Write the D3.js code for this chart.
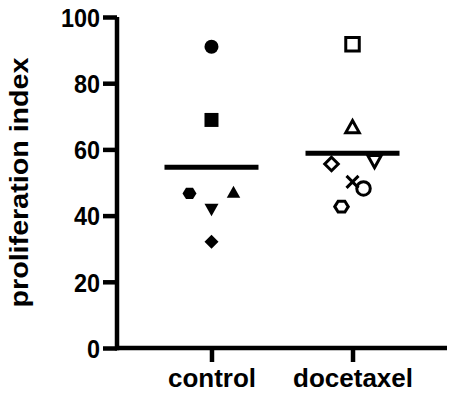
<!DOCTYPE html>
<html>
<head>
<meta charset="utf-8">
<script src="https://cdn.jsdelivr.net/npm/d3@7"></script>
<style>
  html, body { margin: 0; padding: 0; background: #fff; }
  svg { display: block; }
  text { font-family: "Liberation Sans", Arial, Helvetica, sans-serif; font-weight: bold; fill: #000; }
</style>
</head>
<body>
<svg id="chart" width="460" height="400"></svg>
<script>
// ---- data ----
const categories = ["control", "docetaxel"];
const controlValues = [91.0, 68.9, 46.7, 47.2, 41.7, 32.1];
const controlShapes = ["circle", "square", "hexagon", "triangleUp", "triangleDown", "diamond"];
const docetaxelValues = [91.8, 66.9, 55.6, 56.3, 50.2, 48.2, 42.7];
const docetaxelShapes = ["square", "triangleUp", "diamond", "triangleDown", "times", "circle", "hexagon"];
const yTicks = [0, 20, 40, 60, 80, 100];
const yLabel = "proliferation index";

// ---- layout (scatter dodge, px) ----
const controlDodge = [0, 0, -22, 22, 0, 0];
const docetaxelDodge = [0, 0, -21, 22, 0, 11, -11];

const groups = [
  { name: categories[0], values: controlValues, shapes: controlShapes, dodge: controlDodge, filled: true },
  { name: categories[1], values: docetaxelValues, shapes: docetaxelShapes, dodge: docetaxelDodge, filled: false }
];

const svg = d3.select("#chart");
const x = d3.scalePoint().domain(categories).range([117, 447]).padding(0.67);
const y = d3.scaleLinear().domain([0, 100]).range([348, 17]);

// custom symbol types
const sym = {
  circle: { draw(c, s) { const r = Math.sqrt(s) / 2; c.moveTo(r, 0); c.arc(0, 0, r, 0, 2 * Math.PI); } },
  square: { draw(c, s) { const r = Math.sqrt(s) / 2; c.rect(-r, -r, 2 * r, 2 * r); } },
  triangleUp: { draw(c, s) { const r = Math.sqrt(s) / 2, h = r * 0.9; c.moveTo(0, -h); c.lineTo(r, h); c.lineTo(-r, h); c.closePath(); } },
  triangleDown: { draw(c, s) { const r = Math.sqrt(s) / 2, h = r * 0.9; c.moveTo(0, h); c.lineTo(r, -h); c.lineTo(-r, -h); c.closePath(); } },
  diamond: { draw(c, s) { const r = Math.sqrt(s) / 2; c.moveTo(0, -r); c.lineTo(r, 0); c.lineTo(0, r); c.lineTo(-r, 0); c.closePath(); } },
  hexagon: { draw(c, s) { const r = Math.sqrt(s) / 2, h = r * 0.8; c.moveTo(-r, 0); c.lineTo(-r / 2, -h); c.lineTo(r / 2, -h); c.lineTo(r, 0); c.lineTo(r / 2, h); c.lineTo(-r / 2, h); c.closePath(); } },
  times: { draw(c, s) { const r = Math.sqrt(s) / 2; c.moveTo(-r, -r); c.lineTo(r, r); c.moveTo(r, -r); c.lineTo(-r, r); } }
};

// y axis
const yAxis = d3.axisLeft(y).tickValues(yTicks).tickSize(14).tickPadding(3);
const gy = svg.append("g").attr("transform", "translate(117,0)").call(yAxis);
gy.select(".domain").attr("stroke", "#000").attr("stroke-width", 4.5).attr("d", `M0,${y(100)}V${y(0) + 2.25}`);
gy.selectAll(".tick line").attr("stroke", "#000").attr("stroke-width", 4.5);
gy.selectAll(".tick text").attr("font-size", 26).attr("dy", "0.36em").attr("fill", "#000")
  .each(function () {
    const w = this.getComputedTextLength();
    d3.select(this).attr("textLength", w * 0.9).attr("lengthAdjust", "spacingAndGlyphs");
  });

// x axis
const xAxis = d3.axisBottom(x).tickSize(14).tickPadding(7);
const gx = svg.append("g").attr("transform", "translate(0,348)").call(xAxis);
gx.select(".domain").attr("stroke", "#000").attr("stroke-width", 4.5).attr("d", "M115,0H447");
gx.selectAll(".tick line").attr("stroke", "#000").attr("stroke-width", 4.5);
gx.selectAll(".tick text").attr("font-size", 26).attr("dy", "0.71em").attr("fill", "#000");
svg.selectAll(".domain, .tick line").attr("stroke-linecap", "butt");

// y label
svg.append("text")
  .attr("transform", `translate(28,${(57 + 308) / 2}) rotate(-90)`)
  .attr("text-anchor", "middle")
  .attr("font-size", 25)
  .attr("textLength", 250)
  .attr("lengthAdjust", "spacingAndGlyphs")
  .text(yLabel);

// mean lines
svg.append("g").selectAll("line").data(groups).join("line")
  .attr("x1", d => x(d.name) - 47)
  .attr("x2", d => x(d.name) + 47)
  .attr("y1", d => y(d3.mean(d.values)))
  .attr("y2", d => y(d3.mean(d.values)))
  .attr("stroke", "#000").attr("stroke-width", 5);

// points
const pts = groups.flatMap(g => g.values.map((v, i) => ({ g: g.name, v, shape: g.shapes[i], dx: g.dodge[i], filled: g.filled })));
svg.append("g").selectAll("path").data(pts).join("path")
  .attr("transform", d => `translate(${x(d.g) + d.dx},${y(d.v)})`)
  .attr("d", d => {
    const w = d.filled ? (d.shape === "triangleUp" ? 13.5 : 14) : (d.shape === "times" ? 12 : 13.5);
    return d3.symbol().type(sym[d.shape]).size(w * w)();
  })
  .attr("fill", d => d.filled ? "#000" : "none")
  .attr("stroke", d => d.filled ? "none" : "#000")
  .attr("stroke-width", 3)
  .attr("stroke-linejoin", "miter");
</script>
</body>
</html>
